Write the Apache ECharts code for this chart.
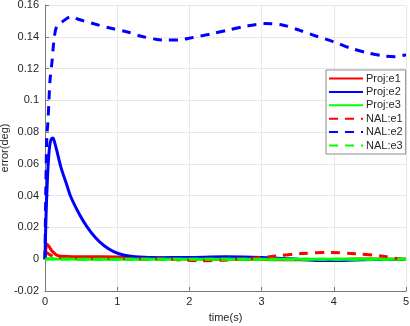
<!DOCTYPE html>
<html><head><meta charset="utf-8">
<script src="https://cdn.jsdelivr.net/npm/echarts@6/dist/echarts.min.js"></script>
<style>html,body{margin:0;padding:0;background:#fff}#c{width:410px;height:326px}</style>
</head><body><div id="c"></div>
<script>
// Proj:e1 (red solid)
const tProjE1 = [0, 0.01, 0.03, 0.06, 0.1, 0.15, 0.2, 0.4, 0.8, 1.2, 1.5, 1.8, 2.2, 2.6, 3.0, 3.4, 3.8, 4.2, 4.6, 5];
const vProjE1 = [0, 0.006, 0.0095, 0.0078, 0.005, 0.003, 0.002, 0.0016, 0.0015, 0.0013, 0.001, 0.0004, 0.0001, 0, -0.0002, -0.0003, -0.0002, 0, 0.0002, 0];
// Proj:e2 (blue solid)
const tProjE2 = [0, 0.01, 0.02, 0.035, 0.05, 0.07, 0.09, 0.11, 0.13, 0.16, 0.22, 0.3, 0.36, 0.48, 0.58, 0.7, 0.82, 0.95, 1.1, 1.3, 1.6, 2.0, 2.5, 3.0, 3.5, 3.8, 4.2, 4.6, 5];
const vProjE2 = [0, 0.02, 0.035, 0.052, 0.064, 0.073, 0.0758, 0.0763, 0.074, 0.069, 0.058, 0.047, 0.039, 0.028, 0.0205, 0.0135, 0.0085, 0.0048, 0.0025, 0.0014, 0.001, 0.0011, 0.0015, 0.0011, 0, -0.0008, -0.0006, -0.0002, 0];
// Proj:e3 (green solid)
const tProjE3 = [0, 0.05, 0.2, 1, 2, 3, 4, 5];
const vProjE3 = [0, 0.0003, 0.0001, 0, 0, 0, 0, 0];
// NAL:e1 (red dashed)
const tNalE1 = [0, 0.03, 0.08, 0.15, 0.3, 0.6, 1.0, 1.3, 1.7, 2.15, 2.47, 2.8, 3.2, 3.55, 3.95, 4.3, 4.68, 5];
const vNalE1 = [0.005, 0.004, 0.0025, 0.0013, 0.0009, 0.0007, 0.0005, 0.0002, 0, -0.001, -0.0006, 0.0003, 0.002, 0.0036, 0.0042, 0.0035, 0.0019, -0.0006];
// NAL:e2 (blue dashed)
const tNalE2 = [0, 0.01, 0.025, 0.04, 0.055, 0.07, 0.1, 0.12, 0.16, 0.24, 0.37, 0.46, 0.69, 0.9, 1.13, 1.32, 1.55, 1.7, 1.84, 2.03, 2.3, 2.56, 2.8, 3.05, 3.3, 3.53, 3.75, 3.99, 4.22, 4.46, 4.68, 4.85, 5];
const vNalE2 = [0, 0.04, 0.077, 0.086, 0.1, 0.113, 0.1255, 0.136, 0.1464, 0.1495, 0.1527, 0.151, 0.148, 0.1455, 0.1432, 0.1405, 0.1383, 0.138, 0.138, 0.1394, 0.1418, 0.1445, 0.1468, 0.1483, 0.1473, 0.144, 0.1405, 0.137, 0.133, 0.13, 0.128, 0.1275, 0.1287];
// NAL:e3 (green dashed)
const tNalE3 = [0, 0.05, 0.2, 1, 2, 3, 4, 5];
const vNalE3 = [0, 0.0002, 0.0001, 0, 0, 0, 0, 0];

const names = ['Proj:e1', 'Proj:e2', 'Proj:e3', 'NAL:e1', 'NAL:e2', 'NAL:e3'];
const colors = ['#ff0000', '#0000ff', '#00ff00', '#ff0000', '#0000ff', '#00ff00'];
const styles = ['solid', 'solid', 'solid', 'dashed', 'dashed', 'dashed'];
const ts = [tProjE1, tProjE2, tProjE3, tNalE1, tNalE2, tNalE3];
const vs = [vProjE1, vProjE2, vProjE3, vNalE1, vNalE2, vNalE3];

const xTicks = {min: 0, max: 5, interval: 1};
const yTicks = {min: -0.02, max: 0.16, interval: 0.02};

const font = 'Liberation Sans, Arial, Helvetica, sans-serif';
const chart = echarts.init(document.getElementById('c'), null, {renderer: 'canvas'});
chart.setOption({
  animation: false,
  backgroundColor: '#ffffff',
  grid: {left: 45, right: 4, top: 5, bottom: 35, containLabel: false, outerBoundsMode: 'none'},
  legend: {
    orient: 'vertical', left: 326, top: 70,
    data: names,
    itemWidth: 34, itemHeight: 10, itemGap: 2.4,
    padding: [3, 3, 3, 2],
    backgroundColor: '#ffffff',
    borderColor: '#8c8c8c', borderWidth: 1, borderRadius: 0,
    itemStyle: {opacity: 0},
    textStyle: {fontFamily: font, fontSize: 11, color: '#262626', padding: [0, 0, 0, -2]}
  },
  xAxis: {
    type: 'value', min: xTicks.min, max: xTicks.max, interval: xTicks.interval,
    name: 'time(s)', nameLocation: 'middle', nameGap: 21, nameMoveOverlap: false,
    nameTextStyle: {fontFamily: font, fontSize: 11, color: '#262626'},
    axisLine: {show: true, onZero: false, lineStyle: {color: '#7a7a7a', width: 1}},
    axisTick: {show: true, inside: true, length: 4, lineStyle: {color: '#7a7a7a'}},
    axisLabel: {fontFamily: font, fontSize: 11, color: '#262626', margin: 5},
    splitLine: {show: true, lineStyle: {color: '#e8e8e8', width: 1}}
  },
  yAxis: {
    type: 'value', min: yTicks.min, max: yTicks.max, interval: yTicks.interval,
    name: 'error(deg)', nameLocation: 'middle', nameGap: 35, nameMoveOverlap: false,
    nameTextStyle: {fontFamily: font, fontSize: 11, color: '#262626'},
    axisLine: {show: true, onZero: false, lineStyle: {color: '#7a7a7a', width: 1}},
    axisTick: {show: true, inside: true, length: 4, lineStyle: {color: '#7a7a7a'}},
    axisLabel: {fontFamily: font, fontSize: 11, color: '#262626', margin: 6,
      formatter: v => String(parseFloat(v.toFixed(2)))},
    splitLine: {show: true, lineStyle: {color: '#e8e8e8', width: 1}}
  },
  series: names.map((n, i) => ({
    name: n, type: 'line', smooth: 0.3, showSymbol: false, symbol: 'none',
    data: ts[i].map((t, j) => [t, vs[i][j]]),
    lineStyle: {color: colors[i], width: 3, type: styles[i] === 'dashed' ? [9, 7] : 'solid'},
    itemStyle: {color: colors[i]},
    z: 2 + i
  }))
});
</script></body></html>
